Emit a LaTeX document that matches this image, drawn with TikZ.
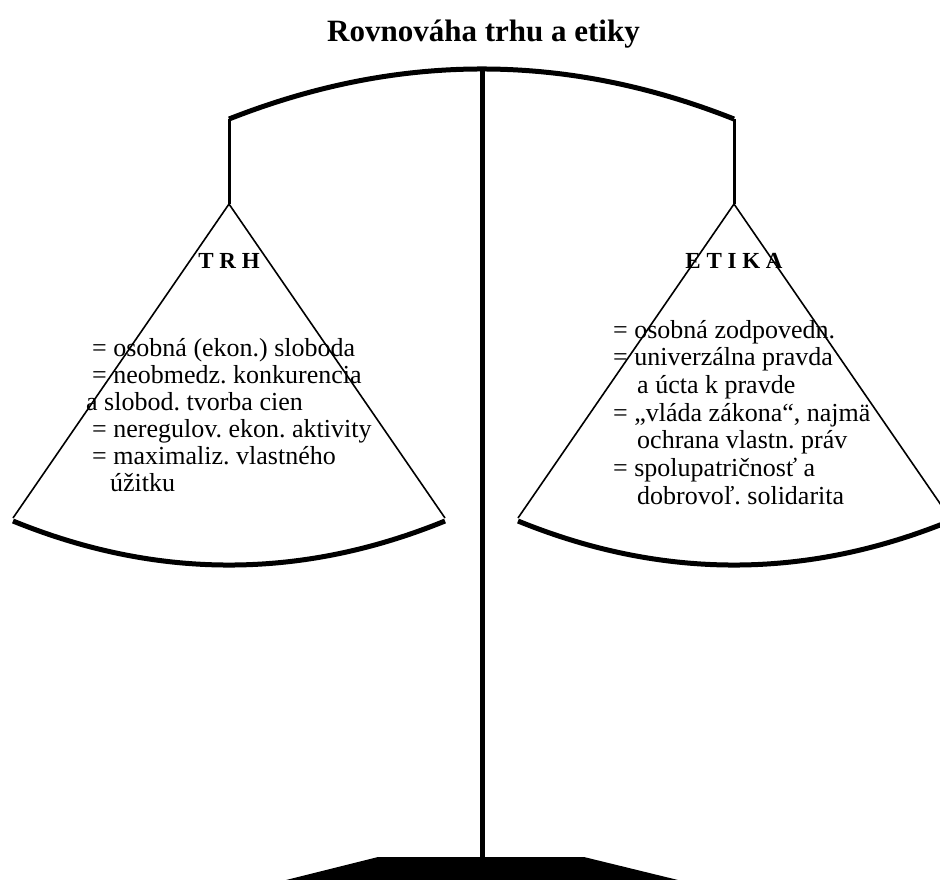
\documentclass[tikz,border=0pt]{standalone}
\usepackage{fontspec}
\setmainfont{Liberation Serif}
\begin{document}
\frenchspacing
\begin{tikzpicture}[x=1pt,y=-1pt,
  beamline/.style={line width=5pt},
  hangline/.style={line width=3pt},
  panside/.style={line width=1.6pt, line join=miter},
  panbottom/.style={line width=5pt},
  polestyle/.style={line width=5pt},
  body/.style={anchor=base west, inner sep=0pt, font=\fontsize{26}{27}\selectfont},
  head/.style={anchor=base, inner sep=0pt, font=\fontsize{23}{25}\selectfont\bfseries},
  titlestyle/.style={anchor=base, inner sep=0pt, font=\fontsize{31}{34}\selectfont\bfseries}]
\useasboundingbox (0,0) rectangle (940,879);
\clip (0,0) rectangle (940,879);
% key points
\coordinate (beamL) at (229,119);
\coordinate (beamR) at (734,119);
\coordinate (poletop) at (482,67);
\coordinate (polebot) at (482,858);
\coordinate (apexL) at (229,204);
\coordinate (apexR) at (734,204);
\coordinate (cornLL) at (13,518);
\coordinate (cornLR) at (445,518);
\coordinate (cornRL) at (518,518);
\coordinate (cornRR) at (950,518);
\coordinate (botLL) at (13,521);
\coordinate (botLR) at (445,521);
\coordinate (botRL) at (518,521);
\coordinate (botRR) at (950,521);
\coordinate (b1) at (378,857);
\coordinate (b2) at (584,857);
\coordinate (b3) at (678,880);
\coordinate (b4) at (286,880);
% base and pole
\fill (b1) -- (b2) -- (b3) -- (b4) -- cycle;
\draw[polestyle] (poletop) -- (polebot);
% beam
\draw[beamline] (beamL) .. controls (398.3,52.3) and (565.7,52.3) .. (beamR);
% hangers
\draw[hangline] (beamL) -- (apexL);
\draw[hangline] (beamR) -- (apexR);
% pans
\draw[panside] (cornLL) -- (apexL) -- (cornLR);
\draw[panside] (cornRL) -- (apexR) -- (cornRR);
\draw[panbottom] (botLL) .. controls (157,579.7) and (301,579.7) .. (botLR);
\draw[panbottom] (botRL) .. controls (662,579.7) and (806,579.7) .. (botRR);
% texts
\node[titlestyle] (title) at (483.5,41) {Rovnováha trhu a etiky};
\node[head] (trh) at (229,268) {T R H};
\node[head] (etika) at (734,268) {E T I K A};
\node[body] (l1) at (92,356) {= osobná (ekon.) sloboda};
\node[body] (l2) at (92,383) {= neobmedz. konkurencia};
\node[body] (l3) at (86,410) {a slobod. tvorba cien};
\node[body] (l4) at (92,437) {= neregulov. ekon. aktivity};
\node[body] (l5) at (92,464) {= maximaliz. vlastného};
\node[body] (l6) at (110,491) {úžitku};
\node[body] (r1) at (613,338) {= osobná zodpovedn.};
\node[body] (r2) at (613,365.7) {= univerzálna pravda};
\node[body] (r3) at (637,393.3) {a úcta k pravde};
\node[body] (r4) at (613,421) {= „vláda zákona“, najmä};
\node[body] (r5) at (637,448.7) {ochrana vlastn. práv};
\node[body] (r6) at (613,476.3) {= spolupatričnosť a};
\node[body] (r7) at (637,504) {dobrovoľ. solidarita};
\end{tikzpicture}
\end{document}
